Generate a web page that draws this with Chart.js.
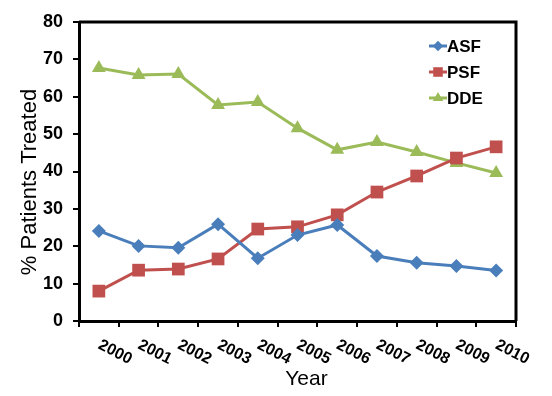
<!DOCTYPE html>
<html>
<head>
<meta charset="utf-8">
<script src="https://cdn.jsdelivr.net/npm/chart.js@4"></script>
<style>
  html, body { margin: 0; padding: 0; background: #fff; }
  #wrap { width: 552px; height: 396px; }
</style>
</head>
<body>
<div id="wrap"><canvas id="chart"></canvas></div>
<script>
const years = ['2000', '2001', '2002', '2003', '2004', '2005', '2006', '2007', '2008', '2009', '2010'];
const asf = [24.1, 20.1, 19.6, 25.9, 16.8, 23.0, 25.7, 17.4, 15.6, 14.7, 13.5];
const psf = [8.0, 13.6, 13.9, 16.6, 24.6, 25.2, 28.4, 34.5, 38.8, 43.6, 46.6];
const dde = [67.7, 65.8, 66.1, 57.8, 58.6, 51.6, 45.8, 47.9, 45.2, 42.3, 39.6];

const blue = '#4a7ebb';
const red = '#c0504d';
const green = '#9bbb59';
const font = 'Arial, "Liberation Sans"';

// frame, axis titles, rotated year labels and the legend inside the plot
const extras = {
  id: 'extras',
  afterDraw(chart) {
    const { ctx, chartArea: a, scales: { x } } = chart;
    ctx.save();
    ctx.strokeStyle = '#000';
    ctx.lineWidth = 3;
    ctx.beginPath();
    ctx.moveTo(a.left, a.top);
    ctx.lineTo(a.right, a.top);
    ctx.lineTo(a.right, a.bottom);
    ctx.stroke();

    ctx.fillStyle = '#000';
    ctx.font = 'bold 16px ' + font;
    ctx.textAlign = 'left';
    ctx.textBaseline = 'top';
    years.forEach((y, i) => {
      const px = x.getPixelForTick(i);
      ctx.save();
      ctx.translate(px + 4, a.bottom + 16);
      ctx.rotate(27 * Math.PI / 180);
      ctx.fillText(y, 0, 0);
      ctx.restore();
    });

    // axis titles
    ctx.font = '21px ' + font;
    ctx.textAlign = 'center';
    ctx.textBaseline = 'alphabetic';
    ctx.fillText('Year', (a.left + a.right) / 2 + 9, 385);
    ctx.save();
    ctx.translate(36, 182);
    ctx.rotate(-Math.PI / 2);
    ctx.font = '22px ' + font;
    ctx.fillText('% Patients Treated', 0, 0);
    ctx.restore();

    const items = chart.data.datasets;
    ctx.font = 'bold 17px ' + font;
    ctx.textAlign = 'left';
    ctx.textBaseline = 'middle';
    items.forEach((ds, i) => {
      const ly = a.top + 24 + i * 26;
      const x0 = a.right - 87, x1 = a.right - 69;
      ctx.strokeStyle = ds.borderColor;
      ctx.lineWidth = 3;
      ctx.beginPath();
      ctx.moveTo(x0, ly);
      ctx.lineTo(x1, ly);
      ctx.stroke();
      ctx.fillStyle = ds.borderColor;
      Chart.helpers.drawPoint(ctx, { pointStyle: ds.pointStyle, radius: ds.pointRadius * 0.75, borderWidth: 0 }, (x0 + x1) / 2, ly);
      ctx.fillStyle = '#000';
      ctx.fillText(ds.label, x1, ly + 1);
    });
    ctx.restore();
  }
};

function line(label, data, color, style, r) {
  return {
    label, data,
    borderColor: color,
    backgroundColor: color,
    borderWidth: 3,
    pointStyle: style,
    pointRadius: r,
    pointBorderWidth: 0,
    pointHoverRadius: r,
    tension: 0
  };
}

new Chart(document.getElementById('chart'), {
  type: 'line',
  data: {
    labels: years,
    datasets: [
      line('ASF', asf, blue, 'rectRot', 7),
      line('PSF', psf, red, 'rect', 9),
      line('DDE', dde, green, 'triangle', 8)
    ]
  },
  plugins: [extras],
  options: {
    responsive: true,
    maintainAspectRatio: false,
    animation: false,
    events: [],
    layout: { padding: { left: 0, right: 36, top: 22, bottom: 0 } },
    plugins: { legend: { display: false }, tooltip: { enabled: false } },
    scales: {
      x: {
        offset: true,
        grid: { offset: true, drawOnChartArea: false, drawTicks: true, tickLength: 6, color: '#000', lineWidth: 2 },
        border: { display: true, color: '#000', width: 3 },
        ticks: { display: false },
        afterFit(s) { s.height = 75; }
      },
      y: {
        min: 0, max: 80,
        ticks: { stepSize: 10, color: '#000', padding: 10, font: { family: font, size: 18, weight: 'bold' } },
        grid: { drawOnChartArea: false, drawTicks: true, tickLength: 6, color: '#000', lineWidth: 2 },
        border: { display: true, color: '#000', width: 3 },
        afterFit(s) { s.width = 79; }
      }
    }
  }
});
</script>
</body>
</html>
